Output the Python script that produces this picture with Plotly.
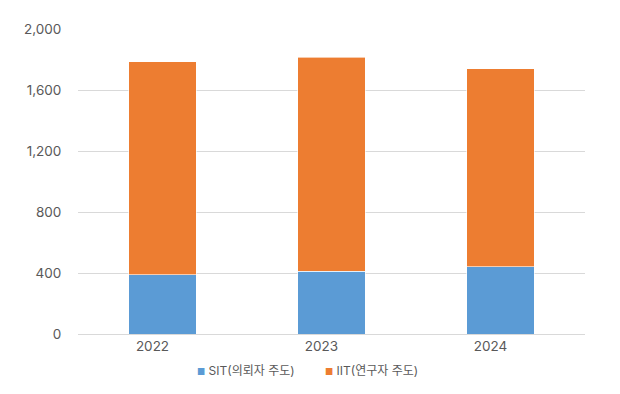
import plotly.graph_objects as go

years = ["2022", "2023", "2024"]
sit_values = [387, 413, 441]
iit_values = [1397, 1403, 1297]
series_names = ["SIT(의뢰자 주도)", "IIT(연구자 주도)"]
series_colors = ["#5B9BD5", "#ED7D31"]
tick_vals = [0, 400, 800, 1200, 1600, 2000]
tick_text = ["0", "400", "800", "1,200", "1,600", "2,000"]

font_family = "Inter, 'Noto Sans CJK KR', sans-serif"

fig = go.Figure()
for vals, name, color in zip([sit_values, iit_values], series_names, series_colors):
    fig.add_trace(go.Bar(x=years, y=vals, name=name, showlegend=False,
                         marker=dict(color=color, line=dict(color="#FFFFFF", width=0.6))))

legend_text = ("&nbsp;" * 9).join(
    f"<span style='color:{c};font-size:9px'>■</span>&nbsp;{n}" for n, c in zip(series_names, series_colors)
)
fig.add_annotation(text=legend_text, xref="paper", yref="paper", x=0.453, y=-0.121,
                   xanchor="center", yanchor="middle", showarrow=False,
                   font=dict(size=12, color="#595959", family=font_family))

fig.update_layout(
    barmode="stack",
    bargap=0.6,
    width=612, height=386,
    margin=dict(l=70, r=35, t=21, b=60, autoexpand=False),
    paper_bgcolor="white", plot_bgcolor="white",
    font=dict(family=font_family, size=13, color="#595959"),
    showlegend=False,
)
fig.update_xaxes(showgrid=False, showline=True, linecolor="#D9D9D9", linewidth=1,
                 ticks="", ticklabelshift=-10, tickfont=dict(size=13.5, color="#595959"))
fig.update_yaxes(range=[0, 2000], tickvals=tick_vals, ticktext=tick_text,
                 showgrid=True, gridcolor="#D9D9D9", gridwidth=1, zeroline=False,
                 showline=False, ticks="outside", ticklen=13, tickcolor="rgba(0,0,0,0)",
                 tickfont=dict(size=13.5, color="#595959"))

fig.write_html("out.html")
